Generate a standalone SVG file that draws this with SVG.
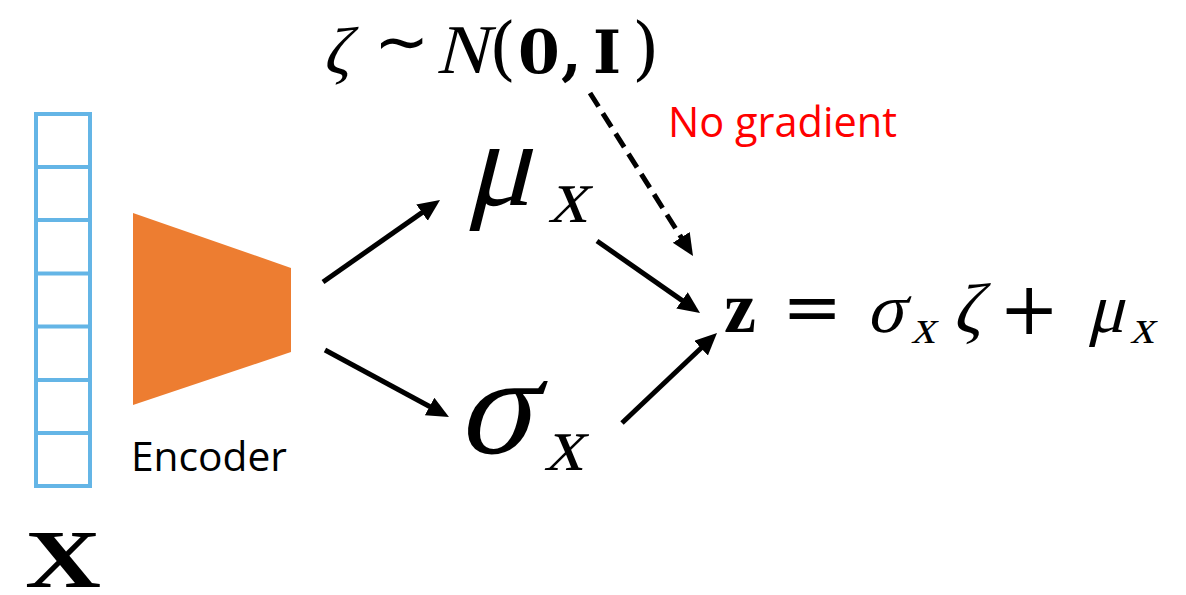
<svg xmlns="http://www.w3.org/2000/svg" width="1186" height="595" viewBox="0 0 1186 595">
<style>
.math{font-family:"Liberation Serif","DejaVu Serif",serif;fill:#000}
.op{font-family:"DejaVu Serif","Liberation Serif",serif;fill:#000}
.bold{font-family:"Liberation Serif","DejaVu Serif",serif;font-weight:bold;fill:#000}
.sans{font-family:"Open Sans","Liberation Sans",sans-serif}
.arrow{stroke:#000;stroke-width:5;fill:none}
.cell{fill:none;stroke:#64B5E6;stroke-width:4}
</style>
<defs>
<marker id="head" markerUnits="userSpaceOnUse" markerWidth="24" markerHeight="22" refX="10" refY="10" orient="auto">
<path d="M0,0 L22,10 L0,20 Z" fill="#000"/>
</marker>
</defs>
<rect width="1186" height="595" fill="#fff"/>
<g id="input-vector">
<rect class="cell" x="36" y="114" width="54" height="372"/>
<line class="cell" x1="36" y1="167" x2="90" y2="167"/>
<line class="cell" x1="36" y1="220" x2="90" y2="220"/>
<line class="cell" x1="36" y1="273.5" x2="90" y2="273.5"/>
<line class="cell" x1="36" y1="326.5" x2="90" y2="326.5"/>
<line class="cell" x1="36" y1="380" x2="90" y2="380"/>
<line class="cell" x1="36" y1="433" x2="90" y2="433"/>
</g>
<g id="x-label">
<text class="bold" x="25" y="587" font-size="82" textLength="76" lengthAdjust="spacingAndGlyphs">X</text>
</g>
<g id="encoder">
<polygon points="133,213 291,268 291,352 133,405" fill="#ED7D31"/>
<text class="sans" x="131" y="471" font-size="40" fill="#000" textLength="156" lengthAdjust="spacingAndGlyphs">Encoder</text>
</g>
<g id="noise">
<text class="math" transform="translate(322,73) skewX(-14)" font-size="66">ζ</text>
<text x="374" y="64" font-size="66" font-family="DejaVu Sans, sans-serif">∼</text>
<text class="math" transform="translate(436,73) skewX(-14)" font-size="70">N</text>
<text class="op" x="489" y="72" font-size="70">(</text>
<text class="op" x="518" y="73" font-size="60" font-weight="bold">0</text>
<text class="op" x="561" y="73" font-size="60" font-weight="bold">,</text>
<text class="op" x="593" y="73" font-size="60" font-weight="bold">I</text>
<text class="op" x="632" y="72" font-size="70">)</text>
</g>
<g id="no-gradient">
<text class="sans" x="668" y="137" font-size="42" fill="#FF0000" textLength="229" lengthAdjust="spacingAndGlyphs">No gradient</text>
</g>
<g id="mu">
<text class="math" transform="translate(466,205) skewX(-14)" font-size="122">μ</text>
<text class="math" transform="translate(548,222) skewX(-14)" font-size="78">x</text>
</g>
<g id="sigma">
<text class="math" transform="translate(456,453) skewX(-14)" font-size="141">σ</text>
<text class="math" transform="translate(544,470) skewX(-14)" font-size="78">x</text>
</g>
<g id="z">
<text class="bold" x="724" y="332" font-size="72">z</text>
<text class="op" x="782" y="332" font-size="72">=</text>
<text class="math" transform="translate(866,332) skewX(-14)" font-size="70">σ</text>
<text class="math" transform="translate(911,343) skewX(-14)" font-size="48">x</text>
<text class="math" transform="translate(952,332) skewX(-14)" font-size="70">ζ</text>
<text class="op" x="999" y="334" font-size="72">+</text>
<text class="math" transform="translate(1087,332) skewX(-14)" font-size="70">μ</text>
<text class="math" transform="translate(1130,343) skewX(-14)" font-size="48">x</text>
</g>
<g id="connectors">
<line class="arrow" x1="323" y1="282" x2="430.2" y2="206.9" marker-end="url(#head)"/>
<line class="arrow" x1="325" y1="350" x2="438.4" y2="411.3" marker-end="url(#head)"/>
<line class="arrow" x1="597" y1="241" x2="690.2" y2="306.1" marker-end="url(#head)"/>
<line class="arrow" x1="622" y1="423" x2="708.3" y2="341.3" marker-end="url(#head)"/>
<line class="arrow" x1="590" y1="93" x2="686.6" y2="245.9" stroke-dasharray="16 8" marker-end="url(#head)"/>
</g>
</svg>
